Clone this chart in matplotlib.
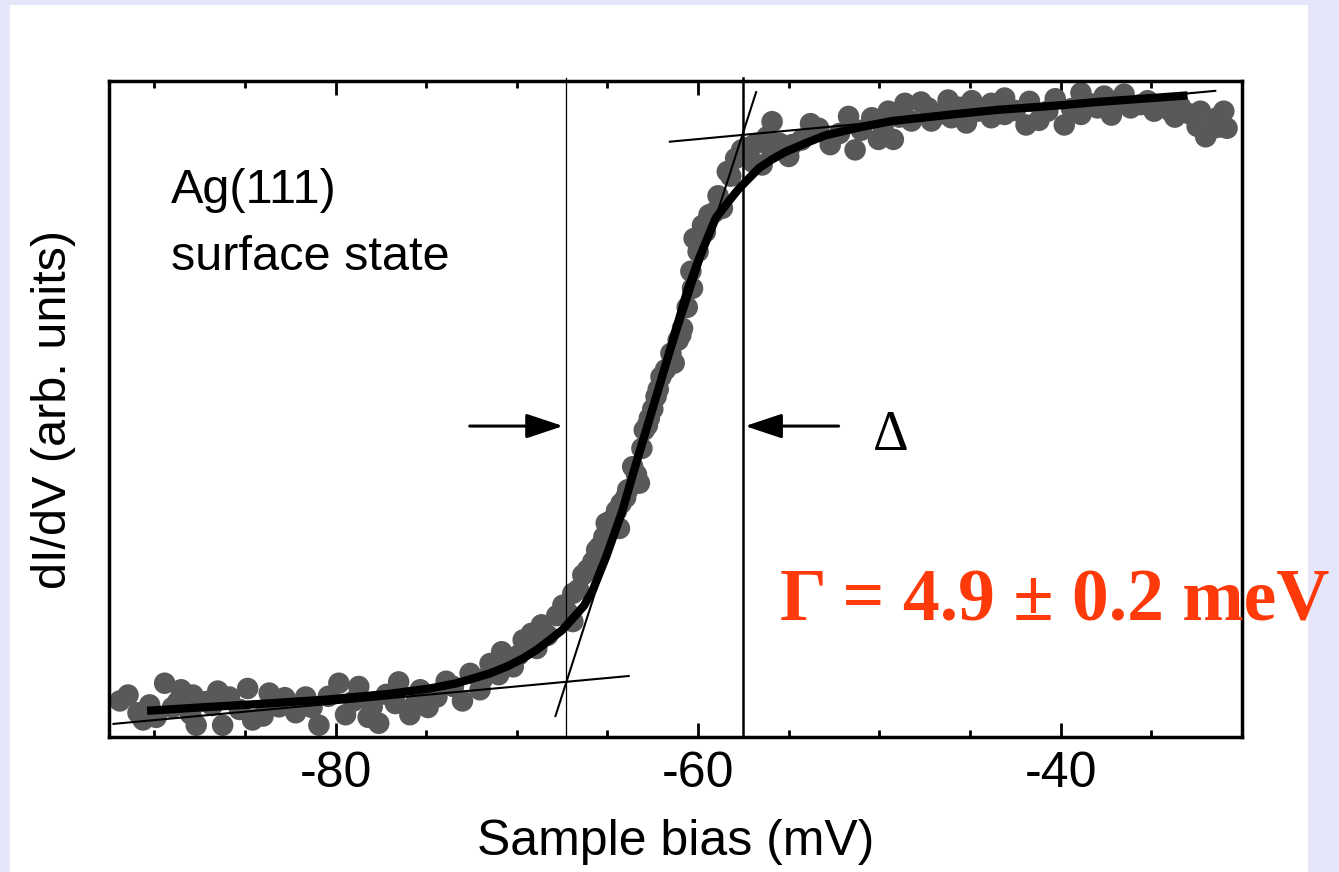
import matplotlib
matplotlib.use('Agg')
import matplotlib.pyplot as plt
from matplotlib.patches import Rectangle
from matplotlib.ticker import MultipleLocator

plt.rcParams['font.family'] = ['Liberation Sans', 'DejaVu Sans']

# measured dI/dV points (sample bias in mV, dI/dV in arb. units)
bias = [-91.45, -90.90, -90.62, -90.26, -89.43, -88.70, -88.52, -87.87, -87.69, -87.14,
        -86.23, -85.86, -84.85, -84.58, -83.66, -83.12, -82.20, -81.65, -80.92, -79.82,
        -79.45, -78.72, -77.98, -77.62, -76.70, -76.52, -75.60, -75.33, -74.41, -73.50,
        -72.58, -72.03, -71.48, -70.84, -70.20, -69.65, -68.64, -67.46, -66.91, -66.91,
        -66.36, -65.81, -65.44, -65.07, -64.34, -64.25, -63.88, -63.24, -63.61, -62.97,
        -62.69, -62.32, -62.05, -61.32, -60.95, -60.86, -60.31, -60.22, -59.76, -59.40,
        -58.66, -58.39, -57.93, -57.10, -57.02, -56.47, -55.92, -55.92, -55.00, -54.82,
        -53.35, -52.71, -51.70, -51.34, -50.42, -50.05, -49.51, -49.23, -48.59, -48.23,
        -47.31, -47.13, -46.21, -46.03, -45.20, -44.56, -43.83, -43.83, -43.09, -43.09,
        -41.91, -41.72, -40.71, -39.80, -38.88, -38.88, -37.97, -37.60, -36.87, -36.14,
        -35.59, -34.85, -33.94, -33.39, -32.47, -32.29, -31.56, -31.37, -31.00, -30.82,
        -91.90, -89.90, -89.00, -88.00, -86.80, -86.50, -85.30, -84.00, -82.80, -81.30,
        -80.40, -79.00, -78.20, -77.20, -75.90, -74.90, -73.90, -73.00, -71.90, -71.00,
        -70.50, -69.90, -69.20, -68.90, -68.30, -67.80, -67.20, -66.60, -66.10, -65.60,
        -65.20, -64.80, -64.50, -64.00, -63.40, -63.10, -62.80, -62.50, -62.20, -61.80,
        -61.50, -61.10, -60.60, -60.40, -60.00, -59.60, -59.10, -58.90, -58.20, -57.60,
        -56.80, -56.20, -55.50, -54.30, -53.80, -52.20, -51.00, -49.80, -48.90, -47.70,
        -46.60, -45.60, -44.90, -42.50, -41.20, -40.30, -39.40, -38.30, -37.20, -36.50,
        -35.20, -34.40, -33.70, -32.90, -32.00, -31.20]
didv = [6.4, 3.7, 2.6, 4.9, 8.2, 5.4, 7.2, 6.4, 1.8, 5.4,
        1.8, 6.1, 7.4, 2.6, 6.7, 4.6, 3.7, 6.1, 1.8, 8.2,
        3.4, 7.7, 4.6, 2.1, 5.1, 8.4, 5.1, 7.2, 6.1, 7.7,
        9.7, 7.2, 11.2, 13.0, 10.7, 14.8, 17.1, 20.1, 21.9, 17.6,
        24.7, 26.7, 29.0, 32.6, 31.8, 35.6, 37.7, 38.7, 41.2, 46.8,
        48.6, 51.9, 54.9, 57.0, 61.3, 62.3, 68.4, 76.0, 78.0, 79.6,
        80.6, 86.2, 88.2, 90.0, 87.7, 87.2, 93.8, 89.2, 88.5, 90.3,
        92.8, 90.3, 94.6, 89.5, 94.4, 91.1, 95.4, 91.1, 96.6, 93.9,
        95.9, 93.9, 97.1, 94.4, 93.6, 95.4, 96.6, 94.4, 97.4, 94.9,
        93.3, 96.9, 95.4, 93.3, 98.2, 94.9, 95.9, 97.7, 96.9, 95.9,
        96.4, 95.4, 95.4, 96.1, 93.1, 95.4, 92.8, 94.4, 95.4, 92.8,
        5.5, 3.0, 4.5, 3.5, 4.8, 7.0, 4.2, 3.2, 6.0, 4.5,
        6.2, 5.5, 3.0, 6.5, 3.4, 4.5, 8.5, 5.5, 8.8, 9.5,
        11.8, 12.5, 15.8, 13.5, 15.5, 18.5, 19.0, 22.5, 25.5, 28.5,
        30.5, 33.0, 34.5, 36.5, 40.0, 44.0, 47.5, 50.0, 53.0, 56.0,
        58.5, 60.5, 65.5, 71.0, 74.0, 77.0, 80.0, 82.5, 85.5, 89.5,
        90.5, 91.5, 90.5, 91.0, 93.5, 92.0, 92.5, 93.0, 94.5, 96.8,
        95.0, 96.0, 97.0, 95.5, 94.0, 97.3, 95.8, 96.5, 94.8, 98.0,
        97.0, 96.0, 94.5, 95.0, 91.5, 93.0]

# fitted curve
fit_bias = [-90.40, -87.50, -84.40, -80.50, -76.98, -74.80, -73.31, -71.48, -70.50, -69.65,
            -68.90, -68.19, -67.50, -66.91, -66.30, -65.81, -65.07, -64.20, -63.42, -62.30,
            -61.23, -60.60, -59.94, -59.03, -58.30, -57.75, -56.65, -55.90, -55.18, -54.00,
            -53.00, -51.00, -49.30, -46.00, -43.50, -40.00, -38.00, -35.50, -33.00]
fit_didv = [4.0, 4.5, 5.0, 5.7, 6.6, 7.4, 8.2, 9.7, 10.8, 12.0,
            13.3, 14.8, 16.3, 18.1, 20.0, 22.4, 27.5, 34.3, 41.7, 52.0,
            62.0, 68.0, 73.0, 79.1, 81.7, 83.6, 86.7, 88.1, 89.2, 90.6,
            91.7, 93.0, 93.9, 94.9, 95.6, 96.3, 96.8, 97.3, 97.8]

# tangent lines (start, end)
low_x, low_y = [-92.25, -63.83], [2.0, 9.3]
steep_x, steep_y = [-67.87, -56.80], [3.2, 98.3]
high_x, high_y = [-61.56, -31.47], [90.75, 98.5]

# onset / end of the step
v_left, v_right = -67.27, -57.53

fig = plt.figure(figsize=(13.39, 8.72), dpi=100)
fig.patch.set_facecolor('#E6E6FA')
fig.add_artist(Rectangle((10 / 1339, 0), 1298 / 1339, 867 / 872, transform=fig.transFigure,
                         facecolor='white', edgecolor='none', zorder=-1))

ax = fig.add_axes([0.0814, 0.1548, 0.8461, 0.7523])
ax.scatter(bias, didv, s=240, color='#595959', edgecolors='none', zorder=2)
ax.plot(fit_bias, fit_didv, color='black', lw=6, solid_capstyle='butt',
        solid_joinstyle='round', zorder=3)
for xs, ys in [(low_x, low_y), (steep_x, steep_y), (high_x, high_y)]:
    ax.plot(xs, ys, color='black', lw=1.5, zorder=4)

ax.axvline(v_left, ymin=0, ymax=1.005, color='black', lw=0.9, clip_on=False, zorder=4)
ax.axvline(v_right, ymin=0, ymax=1.005, color='black', lw=1.8, clip_on=False, zorder=4)

arrow = dict(arrowstyle='-|>,head_length=0.42,head_width=0.14', color='black', lw=2.2,
             mutation_scale=54, shrinkA=0, shrinkB=0)
ax.annotate('', xy=(v_left - 0.18, 47.4), xytext=(-72.6, 47.4), arrowprops=arrow)
ax.annotate('', xy=(v_right + 0.12, 47.4), xytext=(-52.25, 47.4), arrowprops=arrow)

ax.text(-49.4, 43.75, 'Δ', fontsize=40, family=['Liberation Serif'], ha='center', va='baseline')
ax.text(-89.1, 81.4, 'Ag(111)', fontsize=35, va='baseline')
ax.text(-89.1, 71.2, 'surface state', fontsize=35, va='baseline')
ax.text(-55.5, 17.8, 'Γ = 4.9 ± 0.2 meV', fontsize=53, fontweight='bold',
        family=['Liberation Serif'], color='#FF3A0A', va='baseline', clip_on=False, zorder=6)

ax.set_xlim(-92.5, -30.0)
ax.set_ylim(0, 100)
ax.set_xticks([-80, -60, -40])
ax.set_xticklabels(['-80', '-60', '-40'])
ax.xaxis.set_minor_locator(MultipleLocator(5))
ax.set_yticks([])
ax.tick_params(axis='x', which='both', direction='in', top=True, bottom=True, width=2,
               labelsize=36, pad=10)
ax.tick_params(axis='x', which='major', length=10)
ax.tick_params(axis='x', which='minor', length=5)
for sp in ax.spines.values():
    sp.set_linewidth(2.5)

ax.set_xlabel('Sample bias (mV)', fontsize=36, labelpad=16)
ax.set_ylabel('dI/dV (arb. units)', fontsize=35, labelpad=24)

fig.savefig('out.png', dpi=100)
